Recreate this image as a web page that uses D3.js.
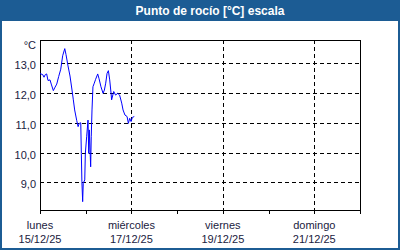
<!DOCTYPE html>
<html lang="es">
<head>
    <meta charset="UTF-8">
    <title>Punto de rocío</title>
    <style>
        body { margin: 0; background: #fff; }
        svg { display: block; }
        .lbl { font-family: "Liberation Sans", Arial, sans-serif; font-size: 11px; fill: #1a1a40; }
        .grid { stroke: #000; stroke-width: 1px; stroke-dasharray: 4,3; shape-rendering: crispEdges; }
    </style>
</head>
<body>
<script src="https://d3js.org/d3.v7.min.js"></script>
<script>
    // hours since lunes 15/12/25 00:00
    var hours = [0, 1.4, 2.1, 2.8, 3.5, 4.2, 5.25, 5.9, 7.0, 7.7, 8.8, 9.8, 10.9, 11.9, 13.0, 13.65,
        14.7, 15.75, 16.8, 17.5, 18.2, 19.3, 20.0, 20.6, 21.4, 21.7, 22.0, 22.4, 22.7, 23.5, 23.8,
        24.5, 25.2, 25.6, 25.9, 26.6, 26.9, 27.3, 27.8, 28.5, 29.2, 30.3, 31.0, 32.0, 33.1, 33.8,
        34.5, 35.2, 35.9, 36.6, 37.3, 37.6, 38.7, 39.7, 40.8, 41.8, 42.9, 43.6, 44.6, 45.7, 46.4,
        47.1, 47.8, 48.5, 49.5];
    var dewpoint = [12.65, 12.62, 12.53, 12.62, 12.64, 12.42, 12.44, 12.30, 12.08, 12.17, 12.30, 12.55, 12.80, 13.25, 13.49, 13.29,
        12.91, 12.57, 12.10, 11.77, 11.43, 11.07, 10.87, 10.98, 11.00, 9.97, 9.02, 8.35, 8.97, 9.08, 9.97,
        10.53, 11.09, 9.97, 10.76, 9.52, 10.53, 11.43, 12.21, 12.33, 12.46, 12.64, 12.48, 12.21, 11.99, 12.10,
        12.33, 12.66, 12.75, 12.44, 11.99, 11.77, 12.05, 11.93, 11.99, 11.93, 11.66, 11.43, 11.26, 11.21, 10.98,
        11.15, 11.04, 11.18, 11.21];
    var yTicks = [9, 10, 11, 12, 13];
    var dayNames = ["lunes", "martes", "miércoles", "jueves", "viernes", "sábado", "domingo", "lunes"];

    var W = 400, H = 250;
    var mLeft = 40, mRight = 360, mTop = 40, mBottom = 210;
    var start = new Date(2025, 11, 15), end = new Date(2025, 11, 22);

    var svg = d3.select("body").append("svg")
        .attr("width", W)
        .attr("height", H);

    svg.append("rect").attr("width", W).attr("height", H).attr("fill", "#fff");

    // title bar
    svg.append("rect").attr("x", 0).attr("y", 0).attr("width", W).attr("height", 21).attr("fill", "#1c5c94");
    svg.append("rect").attr("x", 1).attr("y", 1).attr("width", W - 2).attr("height", H - 2)
        .attr("fill", "none").attr("stroke", "#1c5c94").attr("stroke-width", 2);
    svg.append("text")
        .attr("x", 210).attr("y", 15)
        .attr("text-anchor", "middle")
        .style("font-family", "'Liberation Sans', Arial, sans-serif")
        .style("font-weight", "bold")
        .style("font-size", "12px")
        .style("fill", "#fff")
        .text("Punto de rocío [°C] escala");

    var x = d3.scaleTime().domain([start, end]).range([mLeft, mRight]);
    var y = d3.scaleLinear().domain([8.07, 13.78]).range([mBottom, mTop]);

    var days = d3.timeDay.range(start, d3.timeDay.offset(end, 1));

    // grid
    svg.append("g").selectAll("line")
        .data(yTicks)
        .enter().append("line")
        .attr("class", "grid")
        .attr("x1", mLeft).attr("x2", mRight)
        .attr("y1", function (d) { return Math.round(y(d)) + 0.5; })
        .attr("y2", function (d) { return Math.round(y(d)) + 0.5; });

    svg.append("g").selectAll("line")
        .data(days.filter(function (d, i) { return i % 2 == 0 && i > 0 && i < 7; }))
        .enter().append("line")
        .attr("class", "grid")
        .attr("x1", function (d) { return Math.round(x(d)) + 0.5; })
        .attr("x2", function (d) { return Math.round(x(d)) + 0.5; })
        .attr("y1", mTop).attr("y2", mBottom);

    // frame
    svg.append("rect")
        .attr("x", mLeft + 0.5).attr("y", mTop + 0.5)
        .attr("width", mRight - mLeft).attr("height", mBottom - mTop)
        .attr("fill", "none").attr("stroke", "#000").attr("stroke-width", 1)
        .style("shape-rendering", "crispEdges");

    // x ticks, every day
    svg.append("g").selectAll("line")
        .data(days)
        .enter().append("line")
        .attr("x1", function (d) { return Math.round(x(d)) + 0.5; })
        .attr("x2", function (d) { return Math.round(x(d)) + 0.5; })
        .attr("y1", mBottom).attr("y2", mBottom + 4)
        .attr("stroke", "#000")
        .style("shape-rendering", "crispEdges");

    var fmt = d3.timeFormat("%d/%m/%y");
    var lab = svg.append("g").selectAll("g")
        .data(days.filter(function (d, i) { return i % 2 == 0 && i < 7; }))
        .enter().append("g");
    lab.append("text")
        .attr("class", "lbl")
        .attr("x", function (d) { return x(d); })
        .attr("y", 229)
        .attr("text-anchor", "middle")
        .text(function (d) { return dayNames[(d.getDay() + 6) % 7]; });
    lab.append("text")
        .attr("class", "lbl")
        .attr("x", function (d) { return x(d); })
        .attr("y", 243)
        .attr("text-anchor", "middle")
        .text(function (d) { return fmt(d); });

    // y labels
    svg.append("g").selectAll("text")
        .data(yTicks)
        .enter().append("text")
        .attr("class", "lbl")
        .attr("x", 36)
        .attr("y", function (d) { return y(d) + 6; })
        .attr("text-anchor", "end")
        .text(function (d) { return d.toFixed(1).replace(".", ","); });

    svg.append("text")
        .attr("class", "lbl")
        .attr("x", 36).attr("y", 49)
        .attr("text-anchor", "end")
        .text("°C");

    // line
    var line = d3.line()
        .x(function (d, i) { return x(d3.timeMinute.offset(start, Math.round(hours[i] * 60))); })
        .y(function (d) { return y(d); });

    svg.append("path")
        .datum(dewpoint)
        .attr("d", line)
        .attr("fill", "none")
        .attr("stroke", "#0000ff")
        .attr("stroke-width", 1);
</script>
</body>
</html>
